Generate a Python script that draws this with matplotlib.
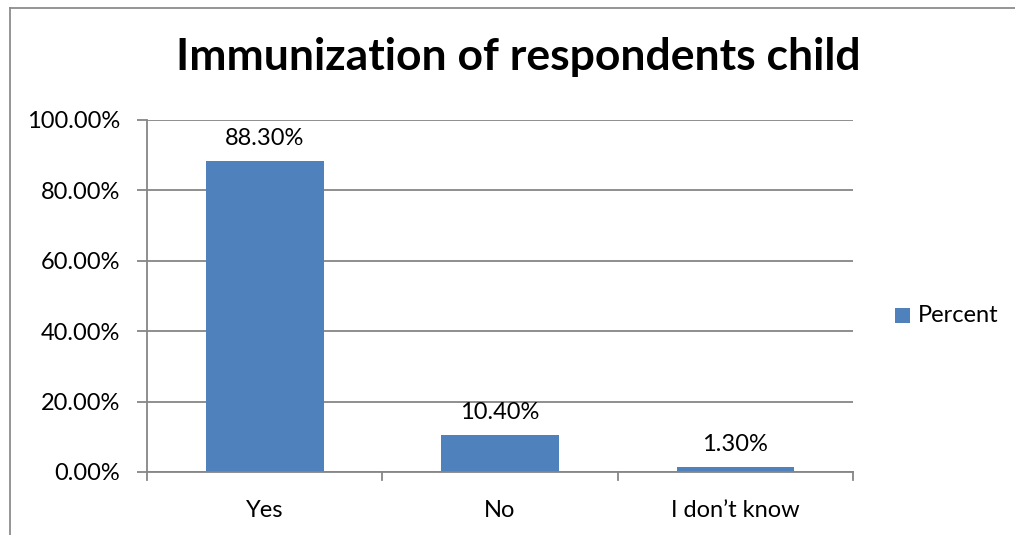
import matplotlib
matplotlib.use("Agg")
import matplotlib.pyplot as plt
from matplotlib.patches import Rectangle
from matplotlib.lines import Line2D

categories = ["Yes", "No", "I don\u2019t know"]
percent = [88.30, 10.40, 1.30]
series_name = "Percent"
yticks = [0, 20, 40, 60, 80, 100]

BAR = "#4F81BD"
GRID = "#868686"
FONT = ["Lato", "DejaVu Sans"]
FS = 17

W, H = 1015, 535
fig = plt.figure(figsize=(W / 100, H / 100), dpi=100)
fig.patch.set_facecolor("white")

# outer chart frame (left and top edges visible)
fig.add_artist(Line2D([10 / W, 10 / W], [0, 1 - 8 / H], transform=fig.transFigure,
                      color="#8c8c8c", lw=1.3))
fig.add_artist(Line2D([10 / W, 1], [1 - 8 / H, 1 - 8 / H], transform=fig.transFigure,
                      color="#8c8c8c", lw=1.3))

ax = fig.add_axes([147 / W, (H - 472) / H, (853 - 147) / W, (472 - 120) / H])
x = list(range(len(categories)))
bars = ax.bar(x, percent, width=0.5, color=BAR, label=series_name, zorder=3)

ax.set_xlim(-0.5, len(categories) - 0.5)
ax.set_ylim(0, 100)
ax.set_yticks(yticks)
ax.set_yticklabels([f"{v:.2f}%" for v in yticks], fontsize=FS, family=FONT)
ax.set_xticks(x)
ax.set_xticklabels(categories, fontsize=FS, family=FONT)
ax.tick_params(axis="x", length=0, pad=20)
ax.tick_params(axis="y", length=7.2, width=1.3, color=GRID, pad=12)

# category boundary ticks on the x axis
for b in [-0.5, 0.5, 1.5, 2.5]:
    ax.plot([b, b], [0, -2.3], color=GRID, lw=1.3, clip_on=False, zorder=4)

ax.grid(axis="y", color=GRID, lw=1.3, zorder=0)
for s in ["top", "right"]:
    ax.spines[s].set_visible(False)
ax.spines["left"].set_color(GRID)
ax.spines["left"].set_linewidth(1.3)
ax.spines["bottom"].set_color(GRID)
ax.spines["bottom"].set_linewidth(1.3)
ax.spines["bottom"].set_zorder(5)

for rect, v in zip(bars, percent):
    ax.annotate(f"{v:.2f}%", (rect.get_x() + rect.get_width() / 2, v),
                xytext=(0, 9), textcoords="offset points", ha="center", va="bottom",
                fontsize=FS, family=FONT)

fig.text(518 / W, 1 - 57 / H, "Immunization of respondents child", ha="center",
         va="center", fontsize=32, fontweight="bold", family=FONT)

# legend
fig.add_artist(Rectangle((895 / W, 1 - 323 / H), 15 / W, 15 / H, transform=fig.transFigure,
                         facecolor=BAR, edgecolor="none"))
fig.text(918 / W, 1 - 315 / H, series_name, ha="left", va="center", fontsize=FS, family=FONT)

fig.savefig("out.png", dpi=100)
